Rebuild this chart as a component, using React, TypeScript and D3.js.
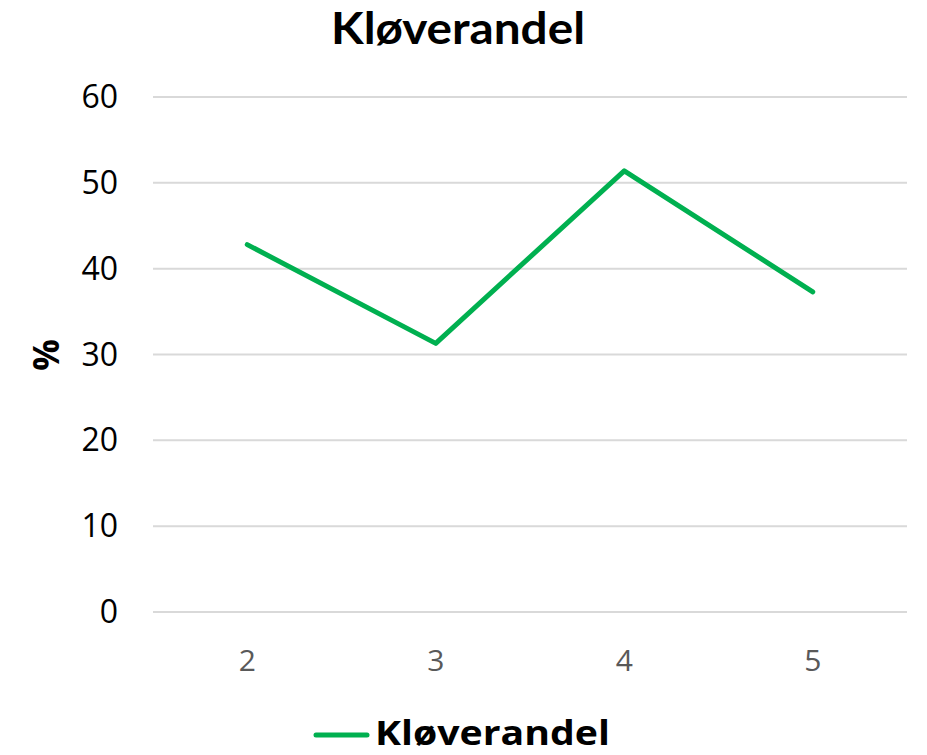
import React from "react";
import * as d3 from "d3";

const categories = ["2", "3", "4", "5"];
const values = [42.8, 31.3, 51.4, 37.3];
const yTicks = [0, 10, 20, 30, 40, 50, 60];
const title = "Kløverandel";
const seriesName = "Kløverandel";
const yLabel = "%";

export default function App() {
  const W = 927, H = 755;
  const left = 153, right = 907, top = 97, bottom = 612;
  const x = d3.scaleBand<string>().domain(categories).range([left, right]);
  const y = d3.scaleLinear().domain([0, 60]).range([bottom, top]);
  const line = d3
    .line<number>()
    .x((_, i) => (x(categories[i]) as number) + x.bandwidth() / 2)
    .y((d) => y(d));
  const green = "#00B050";
  return (
    <svg width={W} height={H} style={{ position: "absolute", left: 0, top: 0, background: "#fff" }}>
      <text x={331} y={44} textLength={254} lengthAdjust="spacingAndGlyphs" fontFamily="Lato, 'Noto Sans', sans-serif" fontWeight={700} fontSize={43} fill="#000">
        {title}
      </text>
      {yTicks.map((t) => (
        <g key={t}>
          <line x1={left} x2={right} y1={y(t)} y2={y(t)} stroke="#d9d9d9" strokeWidth={2} />
          <text x={118} y={y(t) + 11} textAnchor="end" fontFamily="'Open Sans', sans-serif" fontSize={32} fill="#000">
            {t}
          </text>
        </g>
      ))}
      {categories.map((c) => (
        <text key={c} x={(x(c) as number) + x.bandwidth() / 2} y={671} textAnchor="middle" fontFamily="'Open Sans', sans-serif" fontSize={30} fill="#595959">
          {c}
        </text>
      ))}
      <text transform={`translate(59,355) rotate(-90)`} textAnchor="middle" fontFamily="'Open Sans', sans-serif" fontWeight={700} fontSize={35} fill="#000">
        {yLabel}
      </text>
      <path d={line(values) || ""} fill="none" stroke={green} strokeWidth={5} strokeLinecap="round" strokeLinejoin="round" />
      <line x1={316} x2={367} y1={735} y2={735} stroke={green} strokeWidth={5} strokeLinecap="round" />
      <text x={375} y={745} textLength={235} lengthAdjust="spacingAndGlyphs" fontFamily="'Open Sans', sans-serif" fontWeight={700} fontSize={34} fill="#000">
        {seriesName}
      </text>
    </svg>
  );
}
